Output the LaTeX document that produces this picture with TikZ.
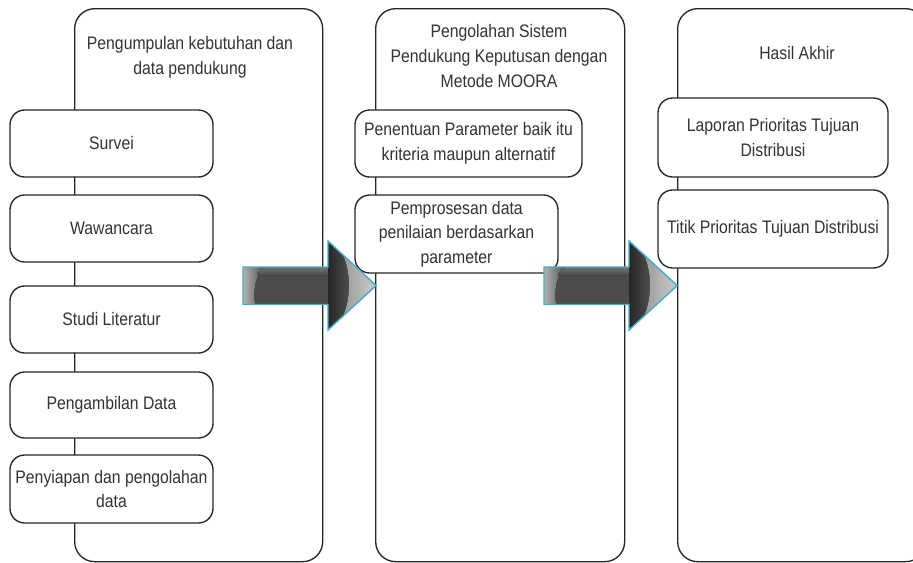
\documentclass[tikz,border=0pt]{standalone}
\usepackage{fontspec}
\setmainfont[FakeStretch=0.87]{Liberation Sans}
\definecolor{txt}{HTML}{333333}
\definecolor{teal}{HTML}{4BACC6}
\begin{document}
\begin{tikzpicture}[x=0.75pt,y=-0.75pt,
  every node/.style={font=\fontsize{13.6}{18.5}\selectfont, text=txt},
  cont/.style={draw=black!85, line width=1pt, rounded corners=15pt, anchor=north west, inner sep=0pt},
  box/.style={draw=black!85, fill=white, line width=1pt, rounded corners=11pt, align=center, inner sep=1pt},
  ttl/.style={align=center, inner sep=0pt},
  rim/.style={draw=teal, line width=1.1pt, line join=miter}]
\useasboundingbox (0,0) rectangle (913,562);
\clip (0,0) rectangle (913,562);
\fill[white] (0,0) rectangle (913,562);
% containers
\node[cont, minimum width=186pt, minimum height=414.75pt] (c1) at (74,8) {};
\node[cont, minimum width=186.75pt, minimum height=414.75pt] (c2) at (375,8) {};
\node[cont, minimum width=186pt, minimum height=414.75pt] (c3) at (677,8) {};
% titles
\node[ttl] (t1) at (190,57) {Pengumpulan kebutuhan dan\\data pendukung};
\node[ttl] (t2) at (499,56) {Pengolahan Sistem\\Pendukung Keputusan dengan\\Metode MOORA};
\node[ttl] (t3) at (797,53) {Hasil Akhir};
% left boxes
\node[box, minimum width=152.25pt, minimum height=50.25pt] (b1) at (111.5,143.5) {Survei};
\node[box, minimum width=152.25pt, minimum height=50.25pt] (b2) at (111.5,228.5) {Wawancara};
\node[box, minimum width=152.25pt, minimum height=50.25pt] (b3) at (111.5,319.5) {Studi Literatur};
\node[box, minimum width=152.25pt, minimum height=49.5pt] (b4) at (111.5,405) {Pengambilan Data};
\node[box, minimum width=152.25pt, minimum height=51pt] (b5) at (111.5,489) {Penyiapan dan pengolahan\\data};
% middle boxes
\node[box, minimum width=170.25pt, minimum height=50.25pt] (m1) at (468.5,143.5) {Penentuan Parameter baik itu\\kriteria maupun alternatif};
\node[box, minimum width=152.25pt, minimum height=58.5pt] (m2) at (456.5,234) {Pemprosesan data\\penilaian berdasarkan\\parameter};
% right boxes
\node[box, minimum width=172.5pt, minimum height=59.25pt] (r1) at (773,137.5) {Laporan Prioritas Tujuan\\Distribusi};
\node[box, minimum width=172.5pt, minimum height=58.5pt] (r2) at (773,229) {Titik Prioritas Tujuan Distribusi};
% block arrows
\foreach \ax/\bx/\tx in {243/328/376, 544/629/677}{
  % shaft
  \fill[black!70] (\ax,267) rectangle (\bx,304.5);
  \fill[left color=black!30, right color=black!70] (\ax,267) -- (\ax+22,267) .. controls (\ax+12,275) and (\ax+10,290) .. (\ax+12,304.5) -- (\ax,304.5) -- cycle;
  \fill[top color=black!55, bottom color=black!70] (\ax+22,267) -- (\bx,267) -- (\bx,275) -- (\ax+14,275) .. controls (\ax+16,271) .. (\ax+22,267) -- cycle;
  % head
  \begin{scope}
    \clip (\bx,241) -- (\tx,285.5) -- (\bx,330) -- cycle;
    \fill[left color=black!85, right color=black!50] (\bx,241) rectangle (\tx,330);
    \fill[left color=black!45, right color=black!20] (\bx+6,241) .. controls (\bx+26,262) and (\bx+26,309) .. (\bx+6,330) -- (\tx,330) -- (\tx,241) -- cycle;
  \end{scope}
  \draw[rim] (\ax,267) -- (\bx,267) -- (\bx,241) -- (\tx,285.5) -- (\bx,330) -- (\bx,304.5) -- (\ax,304.5) -- cycle;
}
\end{tikzpicture}
\end{document}
